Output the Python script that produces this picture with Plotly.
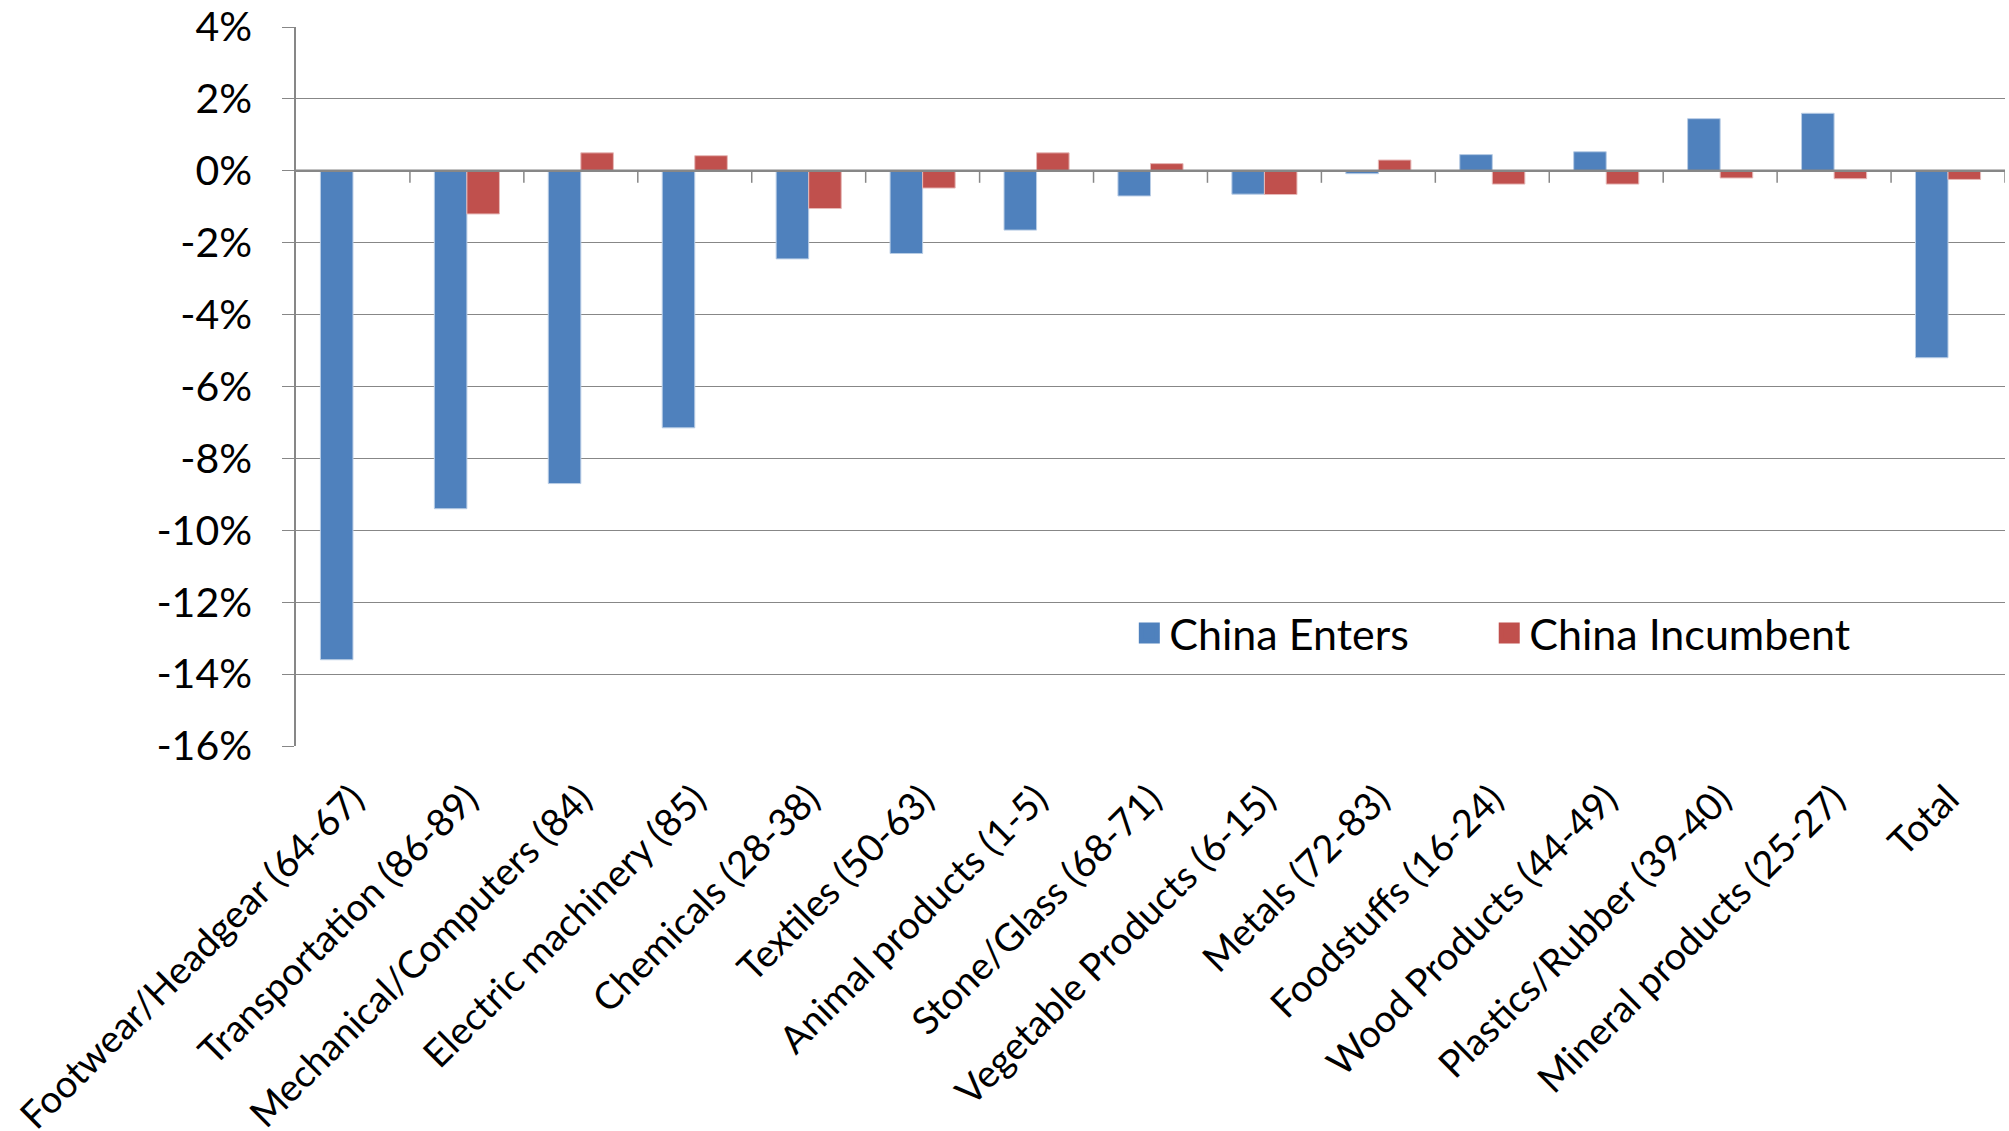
import plotly.graph_objects as go

categories = [
    "Footwear/Headgear (64-67)", "Transportation (86-89)", "Mechanical/Computers (84)",
    "Electric machinery (85)", "Chemicals (28-38)", "Textiles (50-63)",
    "Animal products (1-5)", "Stone/Glass (68-71)", "Vegetable Products (6-15)",
    "Metals (72-83)", "Foodstuffs (16-24)", "Wood Products (44-49)",
    "Plastics/Rubber (39-40)", "Mineral products (25-27)", "Total",
]
china_enters = [-13.6, -9.4, -8.7, -7.15, -2.45, -2.3, -1.65, -0.7, -0.65, -0.08,
                0.45, 0.53, 1.45, 1.6, -5.2]
china_incumbent = [0.0, -1.2, 0.5, 0.42, -1.05, -0.48, 0.5, 0.2, -0.66, 0.3,
                   -0.37, -0.37, -0.2, -0.22, -0.24]
series_names = ["China Enters", "China Incumbent"]
y_ticks = list(range(-16, 5, 2))
y_tick_labels = [f"{v}%" for v in y_ticks]

FONT = "Lato"
GRID = "#878787"
COLORS = ["#4F81BD", "#C0504D"]
EDGES = ["#B9CDE5", "#E6B9B8"]
LEGENDS = ["legend", "legend2"]

fig = go.Figure()
for name, vals, col, edge in zip(series_names, [china_enters, china_incumbent], COLORS, EDGES):
    fig.add_trace(go.Bar(
        x=categories, y=vals, name=name, legendgroup=name, showlegend=False,
        marker=dict(color=col, line=dict(color=edge, width=1)),
    ))
# legend entries (larger square symbols than the default bar icon)
for name, col, lg in zip(series_names, COLORS, LEGENDS):
    fig.add_trace(go.Scatter(
        x=[None], y=[None], mode="markers", name=name, legendgroup=name, legend=lg,
        marker=dict(symbol="square", size=16, color=col, line=dict(color=col, width=5)),
    ))

shapes = [dict(type="line", xref="paper", yref="y", x0=0, x1=1, y0=0, y1=0,
               line=dict(color=GRID, width=2.5), layer="above")]
for i in range(len(categories)):
    shapes.append(dict(type="line", xref="x", yref="y", ysizemode="pixel",
                       yanchor=0, x0=i + 0.5, x1=i + 0.5, y0=0, y1=-12,
                       line=dict(color=GRID, width=1.5), layer="above"))

legend_style = dict(orientation="h", y=0.157, xanchor="left", yanchor="middle",
                    bgcolor="rgba(0,0,0,0)", font=dict(size=43), itemwidth=30)

fig.update_layout(
    width=2009, height=1131,
    margin=dict(l=296, r=4, t=27, b=385, pad=0),
    paper_bgcolor="white", plot_bgcolor="white",
    barmode="group", bargap=0.4286, bargroupgap=0,
    font=dict(family=FONT, size=40, color="black"),
    showlegend=True,
    legend=dict(x=0.4876, **legend_style),
    legend2=dict(x=0.6982, **legend_style),
    shapes=shapes,
    xaxis=dict(type="category", range=[-0.5, len(categories) - 0.5], automargin=False,
               tickangle=-45, showgrid=False, showline=False, ticks="",
               ticklabelstandoff=22, tickfont=dict(size=38)),
    yaxis=dict(range=[-16, 4], tickvals=y_ticks, ticktext=y_tick_labels, automargin=False,
               showgrid=True, gridcolor=GRID, gridwidth=1.3,
               zeroline=False, showline=True, linecolor=GRID, linewidth=1.5,
               ticks="outside", ticklen=12, tickcolor=GRID, tickwidth=1.3,
               ticklabelstandoff=22, tickfont=dict(size=41)),
)

fig.write_html("out.html")
